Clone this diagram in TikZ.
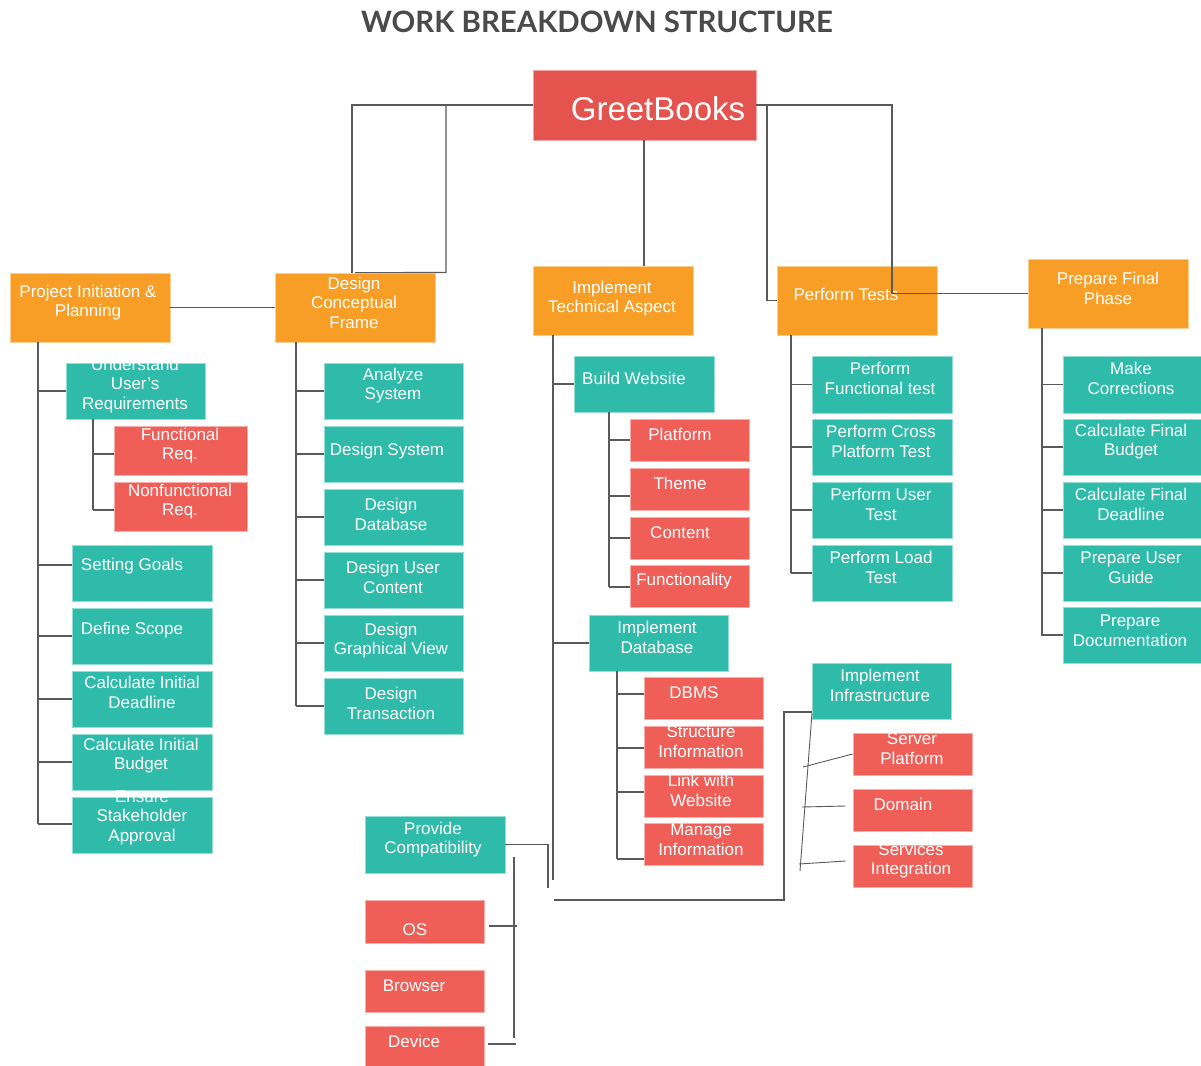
\documentclass[tikz,border=0pt]{standalone}
\usepackage{fontspec}
\setmainfont{Liberation Sans}
\newfontfamily\titlefont{Lato}
\definecolor{orng}{HTML}{F89E26}
\definecolor{tealc}{HTML}{2EBBA9}
\definecolor{redc}{HTML}{F05E58}
\definecolor{gbred}{HTML}{E5534E}
\definecolor{titleC}{HTML}{4A4A4A}
\definecolor{lineC}{HTML}{5A5A5A}
\tikzset{
  conn/.style={draw=lineC, line width=1.1pt},
  obox/.style={fill=orng, draw=orng!50!white, line width=0.8pt, inner sep=0pt},
  gbox/.style={fill=gbred, draw=gbred!50!white, line width=0.8pt, inner sep=0pt},
  tbox/.style={fill=tealc, draw=tealc!50!white, line width=0.8pt, inner sep=0pt},
  rbox/.style={fill=redc, draw=redc!50!white, line width=0.8pt, inner sep=0pt},
  txt/.style={text=white, align=center, font=\fontsize{17}{19.5}\selectfont, inner sep=0pt, yshift=-1.5pt},
}
\newcommand\bx[9]{%
  \node[#1, minimum width={#5-#3}, minimum height={#6-#4}] (#2) at ({(#3+#5)/2},{(#4+#6)/2}) {};
  \node[txt] (#2-t) at (#7,#8) {#9};
}
\begin{document}
\begin{tikzpicture}[x=1pt,y=-1pt]
\useasboundingbox[fill=white] (0,0) rectangle (1201,1065);

\node[font=\titlefont\bfseries\fontsize{29.4}{33}\selectfont, text=titleC, inner sep=0pt] (title) at (597,22) {WORK BREAKDOWN STRUCTURE};

% top
\bx{gbox}{gb}{533}{70}{756}{140}{658}{107}{\fontsize{33}{36}\selectfont GreetBooks}
\bx{obox}{pip}{10}{273}{170}{342}{88}{301}{Project Initiation \&\\Planning}
\bx{obox}{dcf}{275}{273}{435}{342}{354}{301}{Design\\Conceptual\\Frame}
\bx{obox}{ita}{533}{266}{693}{335}{612}{297}{Implement\\Technical Aspect}
\bx{obox}{pt}{777}{266}{937}{335}{846}{293}{Perform Tests}
\bx{obox}{pfp}{1028}{259}{1188}{328}{1108}{287}{Prepare Final\\Phase}

% column 1
\bx{tbox}{uur}{66}{363}{205}{419}{135}{384}{Understand\\User's\\Requirements}
\bx{rbox}{fr}{114}{426}{247}{475}{180}{444}{Functional\\Req.}
\bx{rbox}{nr}{114}{482}{247}{531}{180}{500}{Nonfunctional\\Req.}
\bx{tbox}{sg}{72}{545}{212}{601}{132}{565}{Setting Goals}
\bx{tbox}{ds}{72}{608}{212}{664}{132}{629}{Define Scope}
\bx{tbox}{cid}{72}{671}{212}{727}{142}{691}{Calculate Initial\\Deadline}
\bx{tbox}{cib}{72}{734}{212}{790}{141}{754}{Calculate Initial\\Budget}
\bx{tbox}{esa}{72}{797}{212}{853}{142}{816}{Ensure\\Stakeholder\\Approval}

% column 2
\bx{tbox}{as}{324}{363}{463}{419}{393}{384}{Analyze\\System}
\bx{tbox}{dsy}{324}{426}{463}{482}{387}{450}{Design System}
\bx{tbox}{ddb}{324}{489}{463}{545}{391}{513}{Design\\Database}
\bx{tbox}{duc}{324}{552}{463}{608}{393}{576}{Design User\\Content}
\bx{tbox}{dgv}{324}{615}{463}{671}{391}{639}{Design\\Graphical View}
\bx{tbox}{dt}{324}{678}{463}{734}{391}{702}{Design\\Transaction}

% column 3
\bx{tbox}{bw}{574}{356}{714}{412}{634}{377}{Build Website}
\bx{rbox}{pl}{630}{419}{749}{461}{680}{433}{Platform}
\bx{rbox}{th}{630}{468}{749}{510}{680}{482}{Theme}
\bx{rbox}{co}{630}{517}{749}{559}{680}{531}{Content}
\bx{rbox}{fu}{630}{565}{749}{607}{684}{580}{Functionality}
\bx{tbox}{idb}{589}{615}{728}{671}{657}{636}{Implement\\Database}
\bx{rbox}{dbms}{644}{677}{763}{719}{694}{691}{DBMS}
\bx{rbox}{si}{644}{726}{763}{768}{701}{740}{Structure\\Information}
\bx{rbox}{lw}{644}{775}{763}{817}{701}{789}{Link with\\Website}
\bx{rbox}{mi}{644}{823}{763}{865}{701}{838}{Manage\\Information}
\bx{tbox}{ii}{812}{663}{951}{719}{880}{684}{Implement\\Infrastructure}
\bx{rbox}{sp}{853}{733}{972}{775}{912}{747}{Server\\Platform}
\bx{rbox}{dom}{853}{789}{972}{831}{903}{803}{Domain}
\bx{rbox}{svi}{853}{845}{972}{887}{911}{859}{Services\\Integration}
\bx{tbox}{pc}{365}{816}{505}{873}{433}{838}{Provide\\Compatibility}
\bx{rbox}{os}{365}{900}{484}{943}{415}{928}{OS}
\bx{rbox}{br}{365}{970}{484}{1012}{414}{984}{Browser}
\bx{rbox}{dev}{365}{1026}{484}{1070}{414}{1040}{Device}

% column 4
\bx{tbox}{pft}{812}{356}{952}{413}{880}{377}{Perform\\Functional test}
\bx{tbox}{pcp}{812}{419}{952}{475}{881}{440}{Perform Cross\\Platform Test}
\bx{tbox}{put}{812}{482}{952}{538}{881}{503}{Perform User\\Test}
\bx{tbox}{plt}{812}{545}{952}{601}{881}{566}{Perform Load\\Test}

% column 5
\bx{tbox}{mc}{1063}{356}{1203}{413}{1131}{377}{Make\\Corrections}
\bx{tbox}{cfb}{1063}{419}{1203}{475}{1131}{440}{Calculate Final\\Budget}
\bx{tbox}{cfd}{1063}{482}{1203}{538}{1131}{503}{Calculate Final\\Deadline}
\bx{tbox}{pug}{1063}{545}{1203}{601}{1131}{566}{Prepare User\\Guide}
\bx{tbox}{pd}{1063}{607}{1203}{663}{1130}{629}{Prepare\\Documentation}

% ---------- connectors ----------
% root
\draw[conn] (gb.west) -| (dcf.north -| 352,0);
\draw[conn] (gb.west) -- (446,105) -- (446,272.5) -- (dcf.north);
\draw[conn] (gb.east) -- (767,105) |- (pt.west);
\draw[conn] (gb.east) -| (892,293.5) -- (pfp.west);
\draw[conn] (gb.south -| 644,0) -- (ita.north -| 644,0);
\draw[conn] (pip.east) -- (dcf.west);

% column 1
\draw[conn] (pip.south -| 38,0) -- (38,824);
\draw[conn] (38,391) -- (uur.west);
\draw[conn] (38,565) -- (sg.west |- 0,565);
\draw[conn] (38,636) -- (ds.west);
\draw[conn] (38,699) -- (cid.west);
\draw[conn] (38,762) -- (cib.west);
\draw[conn] (38,824) -- (esa.west |- 0,824);
\draw[conn] (uur.south -| 93,0) -- (93,510);
\draw[conn] (93,454) -- (fr.west |- 0,454);
\draw[conn] (93,510) -- (nr.west |- 0,510);

% column 2
\draw[conn] (dcf.south -| 296,0) -- (296,706);
\foreach \n in {as,dsy,ddb,duc,dgv,dt} \draw[conn] (\n.west -| 296,0) -- (\n.west);

% column 3
\draw[conn] (ita.south -| 553,0) -- (553,880);
\draw[conn] (553,384) -- (bw.west);
\draw[conn] (553,643) -- (idb.west);
\draw[conn] (bw.south -| 609,0) -- (609,587);
\draw[conn] (609,440) -- (pl.west);
\draw[conn] (609,496) -- (th.west |- 0,496);
\draw[conn] (609,538) -- (co.west);
\draw[conn] (609,587) -- (fu.west |- 0,587);
\draw[conn] (idb.south -| 617,0) -- (617,859);
\draw[conn] (617,694) -- (dbms.west |- 0,694);
\draw[conn] (617,748) -- (si.west |- 0,748);
\draw[conn] (617,792) -- (lw.west |- 0,792);
\draw[conn] (617,859) -- (mi.west |- 0,859);

% provide compatibility
\coordinate (pcend) at (548,888);
\draw[conn] (pc.east) -| (pcend);
\coordinate (pcs1) at (514,857);
\coordinate (pcs2) at (514,1038);
\draw[conn] (pcs1) -- (pcs2);
\draw[conn] ([xshift=5pt]os.east |- 0,926) -- (517,926);
\draw[conn] ([xshift=4pt]dev.east |- 0,1044) -- (516,1044);

% infrastructure
\coordinate (infs) at (554,900);
\draw[conn] (infs) -- (784,900) |- (ii.west |- 0,712);
\coordinate (sl1) at (812,713);
\coordinate (sl2) at (800,871);
\draw[conn, line width=0.9pt] (sl1) -- (sl2);
\draw[conn, line width=0.9pt] (803,767) -- (sp.west |- 0,754);
\draw[conn, line width=0.9pt] (802,807) -- ([xshift=-7pt]dom.west |- 0,806);
\draw[conn, line width=0.9pt] (799,864) -- ([xshift=-7pt]svi.west |- 0,861);

% column 4
\draw[conn] (pt.south -| 791,0) -- (791,573);
\foreach \n in {pft,pcp,put,plt} \draw[conn] (\n.west -| 791,0) -- (\n.west);

% column 5
\draw[conn] (pfp.south -| 1042,0) -- (1042,636);
\foreach \n in {mc,cfb,cfd,pug,pd} \draw[conn] (\n.west -| 1042,0) -- (\n.west);
\end{tikzpicture}
\end{document}
